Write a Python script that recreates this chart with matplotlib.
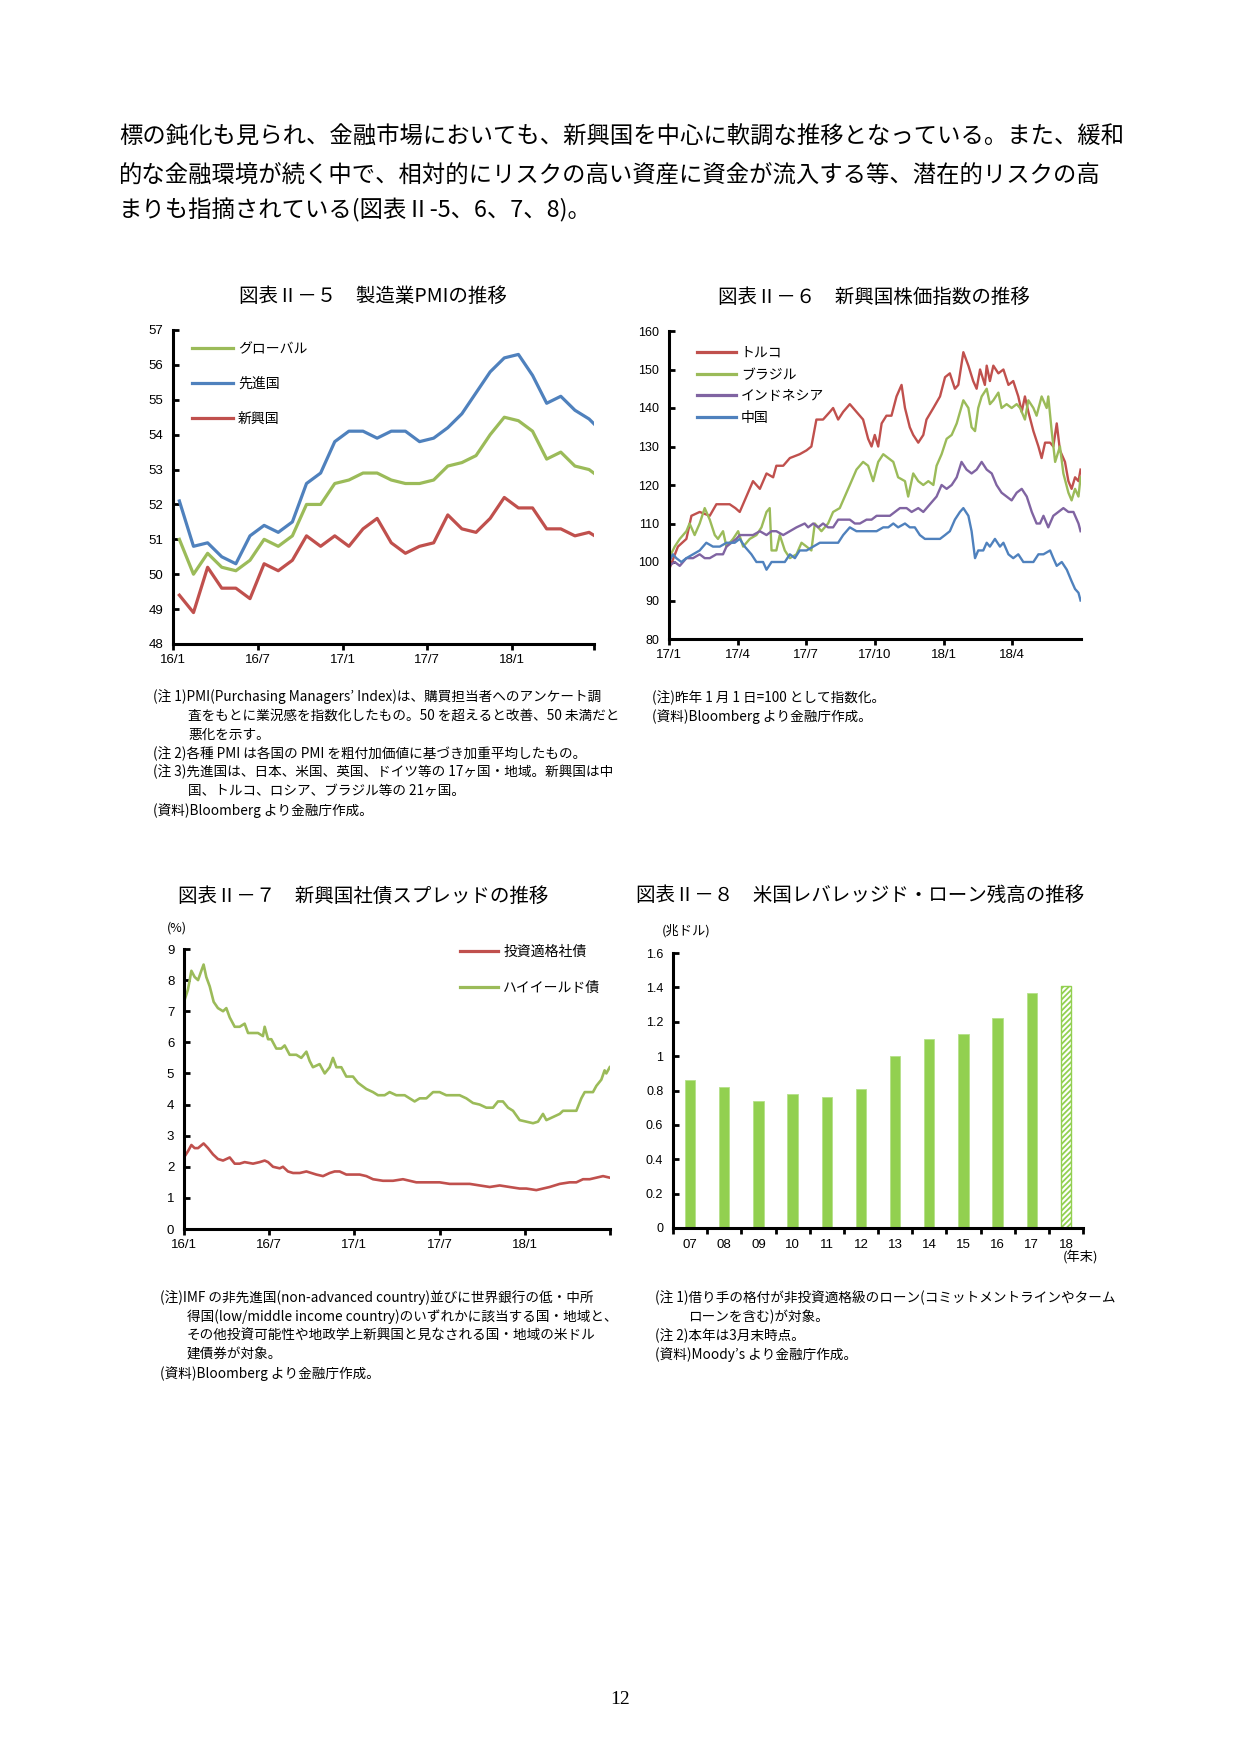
import matplotlib
matplotlib.use("Agg")
import matplotlib.pyplot as plt
import numpy as np

CJK = ['Noto Sans CJK JP', 'DejaVu Sans']
plt.rcParams['font.family'] = CJK
plt.rcParams['hatch.linewidth'] = 1.3

# ---------------- data ----------------
# Chart II-5 : manufacturing PMI, monthly 2016/1 .. 2018/7
pmi_ticklabels = ['16/1', '16/7', '17/1', '17/7', '18/1']
pmi_global = [51.0, 50.0, 50.6, 50.2, 50.1, 50.4, 51.0, 50.8, 51.1, 52.0, 52.0, 52.6, 52.7,
              52.9, 52.9, 52.7, 52.6, 52.6, 52.7, 53.1, 53.2, 53.4, 54.0, 54.5, 54.4, 54.1,
              53.3, 53.5, 53.1, 53.0, 52.7]
pmi_adv = [52.1, 50.8, 50.9, 50.5, 50.3, 51.1, 51.4, 51.2, 51.5, 52.6, 52.9, 53.8, 54.1,
           54.1, 53.9, 54.1, 54.1, 53.8, 53.9, 54.2, 54.6, 55.2, 55.8, 56.2, 56.3, 55.7,
           54.9, 55.1, 54.7, 54.45, 54.05]
pmi_em = [49.4, 48.9, 50.2, 49.6, 49.6, 49.3, 50.3, 50.1, 50.4, 51.1, 50.8, 51.1, 50.8,
          51.3, 51.6, 50.9, 50.6, 50.8, 50.9, 51.7, 51.3, 51.2, 51.6, 52.2, 51.9, 51.9,
          51.3, 51.3, 51.1, 51.2, 50.95]

# Chart II-6 : EM stock indices (2017/1/1 = 100); time in months since 2017/1
stock_ticklabels = ['17/1', '17/4', '17/7', '17/10', '18/1', '18/4']
turkey_t = [0.00, 0.39, 0.76, 0.98, 1.34, 1.78, 2.07, 2.36, 2.65, 2.90, 3.09, 3.38, 3.67, 3.97,
            4.26, 4.55, 4.69, 4.99, 5.28, 5.71, 6.01, 6.22, 6.44, 6.73, 7.03, 7.17, 7.39, 7.61,
            7.90, 8.19, 8.48, 8.70, 8.85, 8.99, 9.14, 9.29, 9.50, 9.72, 9.94, 10.16, 10.31,
            10.52, 10.67, 10.89, 11.11, 11.25, 11.55, 11.84, 12.06, 12.27, 12.49, 12.64, 12.86,
            13.08, 13.29, 13.44, 13.59, 13.80, 13.88, 14.02, 14.17, 14.39, 14.61, 14.83, 15.04,
            15.26, 15.41, 15.55, 15.70, 15.92, 16.14, 16.28, 16.43, 16.65, 16.79, 16.94, 17.08,
            17.30, 17.45, 17.59, 17.74, 17.89, 17.98]
turkey_v = [98, 104, 106, 112, 113, 112, 115, 115, 115, 114, 113, 117, 121, 119, 123, 122, 125,
            125, 127, 128, 129, 130, 137, 137, 139, 140, 137, 139, 141, 139, 137, 132, 130, 133,
            130, 136, 138, 138, 143, 146, 140, 135, 133, 131, 133, 137, 140, 143, 148, 149, 145,
            146, 154.5, 151, 147, 145, 150, 146, 151, 147, 151, 149, 150, 146, 147, 143, 139,
            143, 139, 134, 130, 127, 131, 131, 130, 136, 129, 126, 121, 119, 122, 121, 124]
brazil_t = [0.00, 0.25, 0.47, 0.76, 0.90, 1.12, 1.34, 1.56, 1.78, 2.00, 2.14, 2.36, 2.51, 2.80,
            3.02, 3.24, 3.53, 3.82, 4.04, 4.26, 4.40, 4.48, 4.69, 4.84, 5.06, 5.28, 5.57, 5.79,
            6.01, 6.22, 6.37, 6.66, 6.95, 7.17, 7.46, 7.68, 7.90, 8.19, 8.48, 8.70, 8.92, 9.14,
            9.36, 9.58, 9.80, 10.01, 10.31, 10.45, 10.67, 10.89, 11.11, 11.33, 11.55, 11.69,
            11.91, 12.13, 12.35, 12.57, 12.86, 13.08, 13.22, 13.37, 13.51, 13.66, 13.88, 14.02,
            14.17, 14.39, 14.53, 14.75, 14.97, 15.19, 15.34, 15.55, 15.70, 15.92, 16.06, 16.28,
            16.50, 16.57, 16.72, 16.87, 17.08, 17.23, 17.45, 17.59, 17.74, 17.89, 17.98]
brazil_v = [101, 104, 106, 108, 110, 107, 110, 114, 111, 107, 106, 108, 104, 106, 108, 104, 106,
            107, 109, 113, 114, 103, 103, 107, 103, 101, 102, 105, 104, 103, 110, 108, 110, 113,
            114, 117, 120, 124, 126, 125, 121, 126, 128, 127, 126, 122, 121, 117, 123, 121, 120,
            121, 120, 125, 128, 132, 133, 136, 142, 140, 135, 134, 140, 143, 145, 141, 142, 144,
            140, 141, 140, 141, 140, 137, 142, 140, 138, 143, 140, 143, 134, 126, 130, 123, 118,
            116, 119, 117, 122]
indonesia_t = [0.00, 0.25, 0.47, 0.76, 1.05, 1.34, 1.56, 1.78, 2.07, 2.36, 2.51, 2.73, 2.94,
               3.09, 3.38, 3.67, 3.97, 4.26, 4.48, 4.69, 4.99, 5.28, 5.57, 5.93, 6.08, 6.30,
               6.52, 6.73, 6.95, 7.17, 7.39, 7.61, 7.90, 8.12, 8.34, 8.63, 8.85, 9.07, 9.36,
               9.65, 9.87, 10.09, 10.38, 10.60, 10.89, 11.11, 11.40, 11.69, 11.91, 12.13, 12.35,
               12.57, 12.78, 13.00, 13.22, 13.44, 13.66, 13.88, 14.10, 14.31, 14.53, 14.75,
               14.97, 15.19, 15.41, 15.63, 15.85, 16.06, 16.21, 16.36, 16.57, 16.79, 17.01,
               17.23, 17.45, 17.67, 17.89, 17.98]
indonesia_v = [99, 100, 99, 101, 101, 102, 101, 101, 102, 102, 104, 105, 106, 107, 107, 107, 108,
               107, 108, 108, 107, 108, 109, 110, 109, 110, 109, 110, 109, 109, 111, 111, 111,
               110, 110, 111, 111, 112, 112, 112, 113, 114, 114, 113, 114, 113, 115, 117, 120,
               119, 120, 122, 126, 124, 123, 124, 126, 124, 123, 120, 118, 117, 116, 118, 119,
               117, 113, 110, 110, 112, 109, 112, 113, 114, 113, 113, 110, 108]
china_t = [0.00, 0.17, 0.32, 0.54, 0.76, 1.05, 1.34, 1.63, 1.92, 2.22, 2.51, 2.87, 3.09, 3.31,
           3.60, 3.82, 4.11, 4.26, 4.48, 4.77, 5.06, 5.28, 5.50, 5.71, 6.01, 6.30, 6.59, 6.88,
           7.17, 7.39, 7.61, 7.90, 8.19, 8.48, 8.78, 9.07, 9.36, 9.58, 9.80, 10.01, 10.31,
           10.52, 10.74, 10.96, 11.18, 11.40, 11.62, 11.84, 12.06, 12.27, 12.49, 12.71, 12.86,
           13.08, 13.22, 13.37, 13.51, 13.73, 13.88, 14.02, 14.24, 14.46, 14.61, 14.83, 15.04,
           15.26, 15.48, 15.70, 15.92, 16.14, 16.36, 16.65, 16.79, 16.94, 17.16, 17.38, 17.59,
           17.74, 17.89, 17.98]
china_v = [100, 102, 101, 100, 101, 102, 103, 105, 104, 104, 105, 105, 106, 104, 102, 100, 100,
           98, 100, 100, 100, 102, 101, 103, 103, 104, 105, 105, 105, 105, 107, 109, 108, 108,
           108, 108, 109, 109, 110, 109, 110, 109, 109, 107, 106, 106, 106, 106, 107, 108, 111,
           113, 114, 112, 108, 101, 103, 103, 105, 104, 106, 104, 105, 102, 101, 102, 100, 100,
           100, 102, 102, 103, 101, 99, 100, 98, 95, 93, 92, 90]

# Chart II-7 : EM corporate bond spreads (%); time in months since 2016/1
spread_ticklabels = ['16/1', '16/7', '17/1', '17/7', '18/1']
hy_t = [0, 0.28, 0.52, 0.75, 0.99, 1.22, 1.38, 1.57, 1.81, 2.09, 2.39, 2.75, 2.98, 3.22, 3.57,
        3.92, 4.27, 4.51, 4.86, 5.21, 5.56, 5.68, 5.92, 6.15, 6.50, 6.85, 7.09, 7.44, 7.91, 8.26,
        8.62, 8.85, 9.08, 9.55, 9.91, 10.26, 10.49, 10.73, 11.08, 11.43, 11.90, 12.25, 12.84,
        13.31, 13.66, 14.13, 14.48, 14.95, 15.54, 15.89, 16.24, 16.60, 17.07, 17.54, 18.00,
        18.47, 19.06, 19.41, 19.88, 20.35, 20.82, 21.29, 21.76, 22.11, 22.46, 22.82, 23.17,
        23.64, 24.11, 24.58, 24.93, 25.28, 25.52, 25.99, 26.46, 26.69, 27.16, 27.63, 27.98,
        28.22, 28.57, 28.80, 29.04, 29.39, 29.62, 29.74, 29.98]
hy_v = [7.3, 7.7, 8.3, 8.1, 8.0, 8.3, 8.5, 8.1, 7.8, 7.3, 7.1, 7.0, 7.1, 6.8, 6.5, 6.5, 6.6, 6.3,
        6.3, 6.3, 6.2, 6.5, 6.1, 6.1, 5.8, 5.8, 5.9, 5.6, 5.6, 5.5, 5.7, 5.4, 5.2, 5.3, 5.0, 5.2,
        5.5, 5.2, 5.2, 4.9, 4.9, 4.7, 4.5, 4.4, 4.3, 4.3, 4.4, 4.3, 4.3, 4.2, 4.1, 4.2, 4.2, 4.4,
        4.4, 4.3, 4.3, 4.3, 4.2, 4.05, 4.0, 3.9, 3.9, 4.1, 4.1, 3.9, 3.8, 3.5, 3.45, 3.4, 3.45,
        3.7, 3.5, 3.6, 3.7, 3.8, 3.8, 3.8, 4.2, 4.4, 4.4, 4.4, 4.6, 4.8, 5.1, 5.0, 5.2]
ig_t = [0, 0.28, 0.52, 0.75, 0.99, 1.38, 1.69, 2.04, 2.39, 2.75, 3.22, 3.57, 3.92, 4.27, 4.86,
        5.33, 5.68, 5.92, 6.27, 6.74, 6.97, 7.32, 7.68, 8.15, 8.62, 8.97, 9.32, 9.79, 10.26,
        10.61, 10.96, 11.43, 11.90, 12.37, 12.84, 13.31, 14.01, 14.72, 15.42, 15.89, 16.36,
        17.07, 18.00, 18.71, 19.41, 20.12, 20.82, 21.53, 22.23, 22.93, 23.64, 24.11, 24.81,
        25.28, 25.75, 26.46, 27.16, 27.63, 28.10, 28.57, 29.04, 29.51, 29.98]
ig_v = [2.3, 2.5, 2.7, 2.6, 2.6, 2.75, 2.6, 2.4, 2.25, 2.2, 2.3, 2.1, 2.1, 2.15, 2.1, 2.15, 2.2,
        2.15, 2.0, 1.95, 2.0, 1.85, 1.8, 1.8, 1.85, 1.8, 1.75, 1.7, 1.8, 1.85, 1.85, 1.75, 1.75,
        1.75, 1.7, 1.6, 1.55, 1.55, 1.6, 1.55, 1.5, 1.5, 1.5, 1.45, 1.45, 1.45, 1.4, 1.35, 1.4,
        1.35, 1.3, 1.3, 1.25, 1.3, 1.35, 1.45, 1.5, 1.5, 1.6, 1.6, 1.65, 1.7, 1.65]

# Chart II-8 : US leveraged loans outstanding (trillion USD)
loan_years = ['07', '08', '09', '10', '11', '12', '13', '14', '15', '16', '17', '18']
loan_values = [0.86, 0.82, 0.74, 0.78, 0.76, 0.81, 1.00, 1.10, 1.13, 1.22, 1.37, 1.41]

# ---------------- colours ----------------
RED = '#C0504D'
GREEN = '#9BBB59'
BLUE = '#4F81BD'
PURPLE = '#8064A2'
BARGREEN = '#92D050'

W, H = 1240, 1755
fig = plt.figure(figsize=(W / 100, H / 100), dpi=100)
fig.patch.set_facecolor('white')


def text(x, y, s, size, ha='left', va='center', **kw):
    fig.text(x / W, 1 - y / H, s, fontsize=size, ha=ha, va=va, **kw)


def make_axes(x0, y0, x1, y1, ysize=9.5, xsize=9.5):
    ax = fig.add_axes([x0 / W, 1 - y1 / H, (x1 - x0) / W, (y1 - y0) / H])
    for s in ('top', 'right'):
        ax.spines[s].set_visible(False)
    for s in ('left', 'bottom'):
        ax.spines[s].set_linewidth(2.2)
        ax.spines[s].set_color('black')
    ax.tick_params(axis='y', direction='in', length=4, width=2, labelsize=ysize, pad=7)
    ax.tick_params(axis='x', direction='out', length=4, width=2, labelsize=xsize, pad=3)
    ax.set_facecolor('none')
    return ax


def tick_font(ax):
    for lab in ax.get_xticklabels(which='both') + ax.get_yticklabels():
        lab.set_fontfamily(['Liberation Sans', 'Noto Sans CJK JP'])


def legend_at(ax, handles, x, y, spacing, hlen):
    leg = ax.legend(handles=handles, loc='upper left', bbox_to_anchor=(x / W, 1 - y / H),
                    bbox_transform=fig.transFigure, frameon=False, fontsize=10,
                    borderpad=0, borderaxespad=0, labelspacing=spacing,
                    handlelength=hlen, handletextpad=0.35)
    return leg


# ---------------- page text ----------------
para = ["標の鈍化も見られ、金融市場においても、新興国を中心に軟調な推移となっている。また、緩和",
        "的な金融環境が続く中で、相対的にリスクの高い資産に資金が流入する等、潜在的リスクの高",
        "まりも指摘されている(図表Ⅱ-5、6、7、8)。"]
for s, y in zip(para, [137, 175, 210]):
    text(119, y, s, 16.8)

text(373, 296, "図表Ⅱ－５　製造業PMIの推移", 14, ha='center')
text(874, 297, "図表Ⅱ－６　新興国株価指数の推移", 14, ha='center')
text(363, 896, "図表Ⅱ－７　新興国社債スプレッドの推移", 14, ha='center')
text(860, 895, "図表Ⅱ－８　米国レバレッジド・ローン残高の推移", 14, ha='center')

# ---------------- Chart II-5 ----------------
ax1 = make_axes(173, 330, 594, 644)
x_pmi = np.arange(len(pmi_global)) + 0.45
l_g, = ax1.plot(x_pmi, pmi_global, color=GREEN, lw=2.3, label='グローバル')
l_a, = ax1.plot(x_pmi, pmi_adv, color=BLUE, lw=2.3, label='先進国')
l_e, = ax1.plot(x_pmi, pmi_em, color=RED, lw=2.3, label='新興国')
ax1.set_xlim(0, 29.8)
ax1.set_ylim(48, 57)
ax1.set_yticks(range(48, 58))
ax1.set_xticks([0, 6, 12, 18, 24, 29.8])
ax1.set_xticklabels(pmi_ticklabels + [''])
tick_font(ax1)
legend_at(ax1, [l_g, l_a, l_e], 192, 342, 1.5, 2.95)

# ---------------- Chart II-6 ----------------
ax2 = make_axes(669, 331, 1081, 639, ysize=9, xsize=9.5)
h_t, = ax2.plot(turkey_t, turkey_v, color=RED, lw=1.7, label='トルコ')
h_b, = ax2.plot(brazil_t, brazil_v, color=GREEN, lw=1.7, label='ブラジル')
h_i, = ax2.plot(indonesia_t, indonesia_v, color=PURPLE, lw=1.7, label='インドネシア')
h_c, = ax2.plot(china_t, china_v, color=BLUE, lw=1.7, label='中国')
ax2.set_xlim(0, 18)
ax2.set_ylim(80, 160)
ax2.set_yticks(range(80, 161, 10))
ax2.set_xticks([0, 3, 6, 9, 12, 15])
ax2.set_xticklabels(stock_ticklabels)
tick_font(ax2)
leg2 = legend_at(ax2, [h_t, h_b, h_i, h_c], 697, 346, 0.55, 2.8)
for ln in leg2.get_lines():
    ln.set_linewidth(2.3)

# ---------------- Chart II-7 ----------------
ax3 = make_axes(184, 949, 610, 1229)
s_ig, = ax3.plot(ig_t, ig_v, color=RED, lw=1.9, label='投資適格社債')
s_hy, = ax3.plot(hy_t, hy_v, color=GREEN, lw=1.9, label='ハイイールド債')
ax3.set_xlim(0, 30)
ax3.set_ylim(0, 9)
ax3.set_yticks(range(0, 10))
ax3.set_xticks([0, 6, 12, 18, 24, 30])
ax3.set_xticklabels(spread_ticklabels + [''])
tick_font(ax3)
leg3 = legend_at(ax3, [s_ig, s_hy], 460, 945, 1.6, 2.75)
for ln in leg3.get_lines():
    ln.set_linewidth(2.3)
text(177, 928, "(%)", 9, ha='center')

# ---------------- Chart II-8 ----------------
ax4 = make_axes(673, 953, 1083, 1228, ysize=9, xsize=9.5)
xpos = np.arange(len(loan_values))
ax4.bar(xpos[:-1], loan_values[:-1], width=0.3, color=BARGREEN, edgecolor='#B5E08A',
        linewidth=0.6)
ax4.bar(xpos[-1:], loan_values[-1:], width=0.3, color='white', edgecolor=BARGREEN,
        hatch='//////', linewidth=1.0)
ax4.set_xlim(-0.5, len(loan_values) - 0.5)
ax4.set_ylim(0, 1.6)
ax4.set_yticks([0, 0.2, 0.4, 0.6, 0.8, 1.0, 1.2, 1.4, 1.6])
ax4.set_yticklabels(['0', '0.2', '0.4', '0.6', '0.8', '1', '1.2', '1.4', '1.6'])
ax4.set_xticks(np.arange(len(loan_values) + 1) - 0.5)
ax4.set_xticklabels([])
ax4.set_xticks(xpos, minor=True)
ax4.set_xticklabels(loan_years, minor=True)
ax4.tick_params(axis='x', which='minor', length=0, labelsize=9.5, pad=8)
tick_font(ax4)
text(686, 931, "(兆ドル)", 9.5, ha='center')
text(1081, 1257, "(年末)", 9.5, ha='center')

# ---------------- notes ----------------
NS = 9.8
notes1 = [(153, "(注 1)PMI(Purchasing Managers’ Index)は、購買担当者へのアンケート調"),
          (188, "査をもとに業況感を指数化したもの。50 を超えると改善、50 未満だと"),
          (188, "悪化を示す。"),
          (153, "(注 2)各種 PMI は各国の PMI を粗付加価値に基づき加重平均したもの。"),
          (153, "(注 3)先進国は、日本、米国、英国、ドイツ等の 17ヶ国・地域。新興国は中"),
          (188, "国、トルコ、ロシア、ブラジル等の 21ヶ国。"),
          (153, "(資料)Bloomberg より金融庁作成。")]
for (x, s), y in zip(notes1, [697, 716, 735, 754, 772, 791, 811]):
    text(x, y, s, NS)

notes2 = ["(注)昨年 1 月 1 日=100 として指数化。", "(資料)Bloomberg より金融庁作成。"]
for s, y in zip(notes2, [698, 717]):
    text(652, y, s, NS)

notes3 = [(160, "(注)IMF の非先進国(non-advanced country)並びに世界銀行の低・中所"),
          (187, "得国(low/middle income country)のいずれかに該当する国・地域と、"),
          (187, "その他投資可能性や地政学上新興国と見なされる国・地域の米ドル"),
          (187, "建債券が対象。"),
          (160, "(資料)Bloomberg より金融庁作成。")]
for (x, s), y in zip(notes3, [1298, 1317, 1336, 1354, 1374]):
    text(x, y, s, NS)

notes4 = [(655, "(注 1)借り手の格付が非投資適格級のローン(コミットメントラインやターム"),
          (688, "ローンを含む)が対象。"),
          (655, "(注 2)本年は3月末時点。"),
          (655, "(資料)Moody’s より金融庁作成。")]
for (x, s), y in zip(notes4, [1298, 1317, 1336, 1355]):
    text(x, y, s, NS)

text(620, 1699, "12", 14, ha='center', family=['Liberation Serif', 'DejaVu Serif'])

fig.savefig('out.png', dpi=100, facecolor='white')
